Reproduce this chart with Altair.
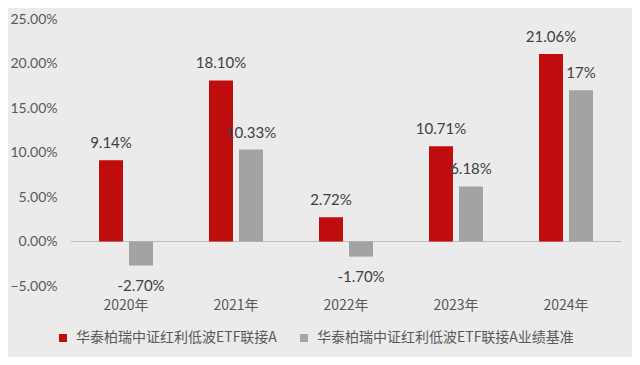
import altair as alt
import pandas as pd

years = ["2020年", "2021年", "2022年", "2023年", "2024年"]
series = ["华泰柏瑞中证红利低波ETF联接A", "华泰柏瑞中证红利低波ETF联接A业绩基准"]
fund = [9.14, 18.10, 2.72, 10.71, 21.06]
bench = [-2.70, 10.33, -1.70, 6.18, 17.00]
fund_labels = ["9.14%", "18.10%", "2.72%", "10.71%", "21.06%"]
bench_labels = ["-2.70%", "10.33%", "-1.70%", "6.18%", "17%"]
y_ticks = [-0.05, 0.0, 0.05, 0.10, 0.15, 0.20, 0.25]

rows = []
for i, yr in enumerate(years):
    rows.append(dict(year=yr, series=series[0], value=fund[i] / 100, label=fund_labels[i]))
    rows.append(dict(year=yr, series=series[1], value=bench[i] / 100, label=bench_labels[i]))
df = pd.DataFrame(rows)

NUM_FONT = "Lato"
CJK_FONT = "Noto Sans CJK SC"

x_enc = alt.X(
    "year:N", sort=years,
    scale=alt.Scale(paddingInner=0.509, paddingOuter=0.2545),
    axis=alt.Axis(title=None, labelAngle=0, domain=False, ticks=False, labelPadding=12,
                  labelFont=CJK_FONT, labelFontSize=14, labelColor="#595959"),
)
xoff_enc = alt.XOffset("series:N", sort=series, scale=alt.Scale(paddingInner=0.2, paddingOuter=0))
y_enc = alt.Y(
    "value:Q",
    scale=alt.Scale(domain=[-0.05, 0.25], nice=False, zero=False),
    axis=alt.Axis(title=None, format=".2%", values=y_ticks, grid=False, domain=False, ticks=False,
                  labelPadding=14, labelFont=NUM_FONT, labelFontSize=14, labelColor="#595959"),
)

base = alt.Chart(df).encode(x=x_enc, xOffset=xoff_enc, y=y_enc)

zero_rule = alt.Chart(df).mark_rule(color="#bcbcbc", strokeWidth=1).encode(y=alt.datum(0))

bars = base.mark_bar().encode(
    color=alt.Color(
        "series:N", sort=series,
        scale=alt.Scale(domain=series, range=["#bf0c0c", "#a3a3a3"]),
        legend=alt.Legend(
            title=None, orient="none", direction="horizontal", legendX=-15, legendY=312,
            symbolType="square", symbolSize=64, symbolStrokeWidth=0, labelOffset=6,
            columnPadding=20, labelFont=CJK_FONT, labelFontSize=14, labelColor="#595959",
            labelLimit=400,
        ),
    )
)

pos_text = base.transform_filter("datum.value >= 0").mark_text(
    baseline="middle", dy=-17, font=NUM_FONT, fontSize=15, color="#404040"
).encode(text="label:N")

neg_text = base.transform_filter("datum.value < 0").mark_text(
    baseline="middle", dy=20, font=NUM_FONT, fontSize=15, color="#404040"
).encode(text="label:N")

chart = alt.layer(zero_rule, bars, pos_text, neg_text).properties(
    width=550, height=267,
    padding={"left": 63, "top": 11, "right": 11, "bottom": 71},
    autosize="none",
    background="#ebebeb",
).configure_view(stroke=None)

chart.save("out.html", embed_options={"renderer": "svg", "actions": False})
